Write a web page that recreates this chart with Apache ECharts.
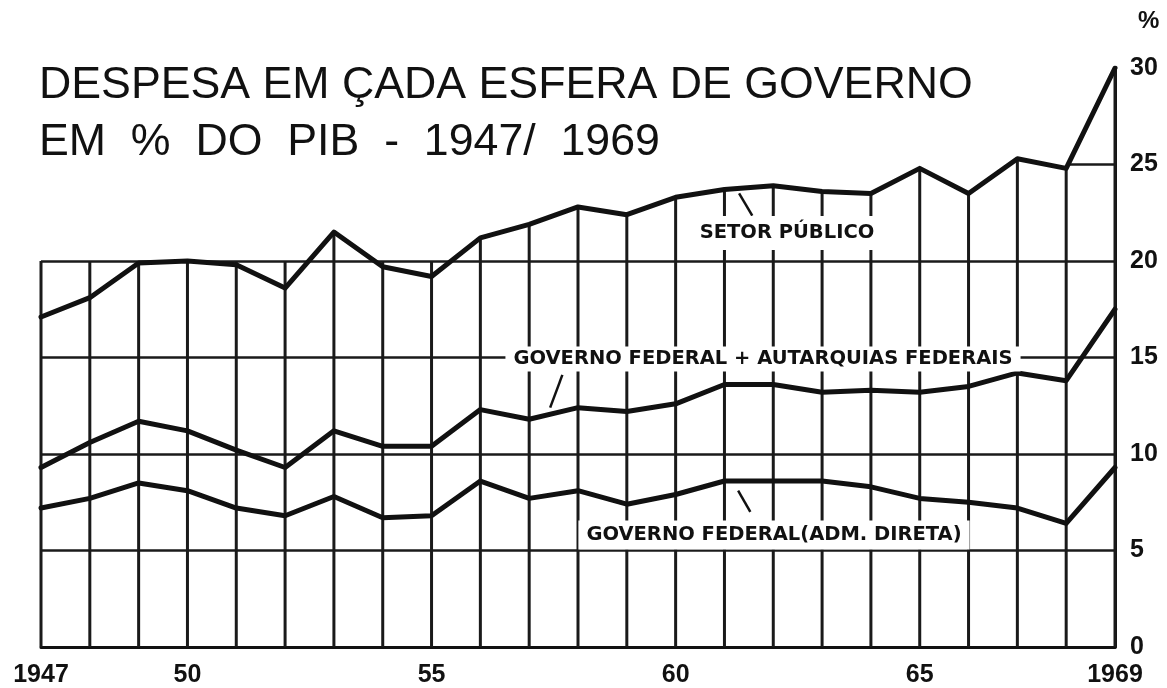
<!DOCTYPE html>
<html>
<head>
<meta charset="utf-8">
<script src="https://cdn.jsdelivr.net/npm/echarts@6/dist/echarts.min.js"></script>
<style>
  html, body { margin: 0; padding: 0; background: #fff; }
  #main { width: 1167px; height: 688px; }
</style>
</head>
<body>
<div id="main"></div>
<script>
// anos 1947..1969
var anos = [1947, 1948, 1949, 1950, 1951, 1952, 1953, 1954, 1955, 1956, 1957, 1958,
            1959, 1960, 1961, 1962, 1963, 1964, 1965, 1966, 1967, 1968, 1969];
// despesa em % do PIB
var setorPublico = [17.1, 18.1, 19.9, 20.0, 19.8, 18.6, 21.5, 19.7, 19.2, 21.2, 21.9, 22.8,
                    22.4, 23.3, 23.7, 23.9, 23.6, 23.5, 24.8, 23.5, 25.3, 24.8, 30.0];
var govFedAutarquias = [9.3, 10.6, 11.7, 11.2, 10.2, 9.3, 11.2, 10.4, 10.4, 12.3, 11.8, 12.4,
                        12.2, 12.6, 13.6, 13.6, 13.2, 13.3, 13.2, 13.5, 14.2, 13.8, 17.5];
var govFedDireta = [7.2, 7.7, 8.5, 8.1, 7.2, 6.8, 7.8, 6.7, 6.8, 8.6, 7.7, 8.1,
                    7.4, 7.9, 8.6, 8.6, 8.6, 8.3, 7.7, 7.5, 7.2, 6.4, 9.3];
// rotulos do eixo x
var rotulosX = { 1947: '1947', 1950: '50', 1955: '55', 1960: '60', 1965: '65', 1969: '1969' };
var linhasGrade = [5, 10, 15, 20];

var dom = document.getElementById('main');
var myChart = echarts.init(dom);
var preto = '#111';
var fonte = 'Liberation Sans';
var fonteRotulo = 'bold 19.5px "DejaVu Sans"';

function pares(arr) {
  return anos.map(function (a, i) { return [a, arr[i]]; });
}

// linhas verticais da grade: sobem ate a curva do setor publico (minimo 20)
var verticais = anos.map(function (a, i) { return [a, Math.max(setorPublico[i], 20)]; });

var estiloLinha = { color: preto, width: 5, join: 'round', cap: 'round' };

option = {
  backgroundColor: '#fff',
  animation: false,
  title: {
    text: 'DESPESA EM ÇADA ESFERA DE GOVERNO\nEM  %  DO  PIB  -  1947/  1969',
    left: 34,
    top: 52,
    textStyle: {
      fontFamily: fonte,
      fontSize: 44.7,
      fontWeight: 'normal',
      lineHeight: 57,
      color: preto
    }
  },
  grid: { left: 41, right: 52, top: 68, bottom: 39 },
  xAxis: {
    type: 'value',
    min: 1947,
    max: 1969,
    interval: 1,
    axisLine: { show: true, onZero: false, lineStyle: { color: preto, width: 3 } },
    axisTick: { show: false },
    splitLine: { show: false },
    axisLabel: {
      margin: 16,
      fontFamily: fonte,
      fontWeight: 'bold',
      fontSize: 25,
      color: preto,
      formatter: function (v) { return rotulosX[v] || ''; }
    }
  },
  yAxis: {
    type: 'value',
    position: 'right',
    min: 0,
    max: 30,
    interval: 5,
    axisLine: { show: true, lineStyle: { color: preto, width: 3 } },
    axisTick: { show: false },
    splitLine: { show: false },
    axisLabel: {
      margin: 15,
      fontFamily: fonte,
      fontWeight: 'bold',
      fontSize: 25,
      color: preto
    }
  },
  graphic: [
    { type: 'text', left: 1138, top: 9, z: 100,
      style: { text: '%', font: 'bold 24px "Liberation Sans"', fill: preto } },
    { type: 'text', x: 787, y: 233, z: 100,
      style: { text: 'SETOR PÚBLICO', font: fonteRotulo, fill: preto,
               align: 'center', verticalAlign: 'middle',
               backgroundColor: '#fff', padding: [8, 8, 6, 8] } },
    { type: 'text', x: 763, y: 359, z: 100,
      style: { text: 'GOVERNO FEDERAL + AUTARQUIAS FEDERAIS', font: fonteRotulo, fill: preto,
               align: 'center', verticalAlign: 'middle',
               backgroundColor: '#fff', padding: [4, 8, 1, 8] } },
    { type: 'text', x: 774, y: 535, z: 100,
      style: { text: 'GOVERNO FEDERAL(ADM. DIRETA)', font: fonteRotulo, fill: preto,
               align: 'center', verticalAlign: 'middle',
               backgroundColor: '#fff', padding: [8, 8, 1, 8] } }
  ],
  series: [
    {
      name: 'grade',
      type: 'bar',
      barWidth: 3,
      clip: false,
      silent: true,
      z: 1,
      itemStyle: { color: '#1a1a1a' },
      data: verticais,
      markLine: {
        silent: true,
        symbol: 'none',
        label: { show: false },
        lineStyle: { color: '#1a1a1a', width: 2.5, type: 'solid' },
        data: linhasGrade.map(function (v) { return { yAxis: v }; }).concat([
          [{ coord: [1968, 25] }, { coord: [1969, 25] }]
        ])
      }
    },
    {
      name: 'SETOR PÚBLICO',
      type: 'line',
      z: 5,
      symbol: 'none',
      lineStyle: estiloLinha,
      data: pares(setorPublico),
      markLine: {
        silent: true, symbol: 'none', label: { show: false },
        lineStyle: { color: preto, width: 2.5, type: 'solid' },
        data: [[{ coord: [1961.30, 23.5] }, { coord: [1961.57, 22.35] }]]
      }
    },
    {
      name: 'GOVERNO FEDERAL + AUTARQUIAS FEDERAIS',
      type: 'line',
      z: 5,
      symbol: 'none',
      lineStyle: estiloLinha,
      data: pares(govFedAutarquias),
      markLine: {
        silent: true, symbol: 'none', label: { show: false },
        lineStyle: { color: preto, width: 2.5, type: 'solid' },
        data: [[{ coord: [1957.68, 14.1] }, { coord: [1957.43, 12.4] }]]
      }
    },
    {
      name: 'GOVERNO FEDERAL(ADM. DIRETA)',
      type: 'line',
      z: 5,
      symbol: 'none',
      lineStyle: estiloLinha,
      data: pares(govFedDireta),
      markLine: {
        silent: true, symbol: 'none', label: { show: false },
        lineStyle: { color: preto, width: 2.5, type: 'solid' },
        data: [[{ coord: [1961.28, 8.1] }, { coord: [1961.53, 7.0] }]]
      }
    }
  ]
};

if (option && typeof option === 'object') {
  myChart.setOption(option, true);
  window.onresize = function () {
    myChart.resize();
  };
}
</script>
</body>
</html>
